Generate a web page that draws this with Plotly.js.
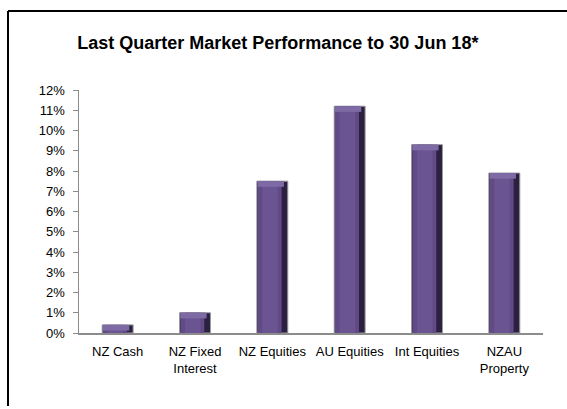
<!DOCTYPE html>
<html><head><meta charset="utf-8">
<script src="https://cdn.plot.ly/plotly-3.0.1.min.js"></script>
<style>
html,body{margin:0;padding:0;background:#fff;overflow:hidden;width:567px;height:409px;}
#chart{width:567px;height:409px;}
</style></head>
<body><div id="chart"></div>
<script>
var categories = ["NZ Cash", "NZ Fixed<br>Interest", "NZ Equities", "AU Equities", "Int Equities", "NZAU<br>Property"];
var values = [0.4, 1.0, 7.5, 11.2, 9.3, 7.9];
var yTicks = [0,1,2,3,4,5,6,7,8,9,10,11,12];
var yTickLabels = yTicks.map(function(v){return v + "%";});

var font = "Liberation Sans, Arial, sans-serif";
var bevel = 0.28;
var bevelBase = values.map(function(v){return Math.max(v - bevel, 0);});
var bevelLen = values.map(function(v, i){return v - bevelBase[i];});
var traces = [
  {type:"bar", x:categories, y:values, width:0.4,
   marker:{color:"#2b2040", line:{color:"#9c9c9c", width:1}}, hoverinfo:"skip"},
  {type:"bar", x:categories, y:values, width:0.31, offset:-0.19,
   marker:{color:"#614a86", line:{width:0}}, hoverinfo:"skip"},
  {type:"bar", x:categories, y:values, width:0.2, offset:-0.13,
   marker:{color:"#6a5491", line:{width:0}}, hoverinfo:"skip"},
  {type:"bar", x:categories, y:bevelLen, base:bevelBase, width:0.34, offset:-0.19,
   marker:{color:"#7e6aa5", line:{width:0}}, hoverinfo:"skip"}
];
var W = 567, H = 409, L = 79, R = 24, T = 90, B = 76;
var pw = W - L - R, ph = H - T - B;
var fx = (8 - L) / pw, fy = 1 + (T - 11) / ph, fr = (W + 5 - L) / pw;
var layout = {
  width:W, height:H,
  margin:{l:L, r:R, t:T, b:B},
  paper_bgcolor:"#fff", plot_bgcolor:"#fff",
  barmode:"overlay", showlegend:false,
  title:{text:"<b>Last Quarter Market Performance to 30 Jun 18*</b>",
         font:{family:font, size:18, color:"#000"}, x:0.49, xanchor:"center", y:0.895, yanchor:"middle"},
  xaxis:{showline:true, linecolor:"#8c8c8c", linewidth:1.5, ticks:"", showgrid:false,
         ticklabelstandoff:6,
         tickfont:{family:font, size:13, color:"#000"}, fixedrange:true},
  yaxis:{range:[0,12], tickvals:yTicks, ticktext:yTickLabels, showline:true, linecolor:"#8c8c8c",
         linewidth:1.5, ticks:"outside", ticklen:5, tickcolor:"#8c8c8c", showgrid:false, zeroline:false,
         ticklabelstandoff:5, tickfont:{family:font, size:13, color:"#000"}, fixedrange:true},
  shapes:[
    {type:"line", xref:"paper", yref:"paper", x0:fx, x1:fx, y0:fy, y1:-0.3, line:{color:"#000", width:2}},
    {type:"line", xref:"paper", yref:"paper", x0:fx, x1:fr, y0:fy, y1:fy, line:{color:"#000", width:2}}
  ]
};
Plotly.newPlot("chart", traces, layout, {staticPlot:true});
</script></body></html>
